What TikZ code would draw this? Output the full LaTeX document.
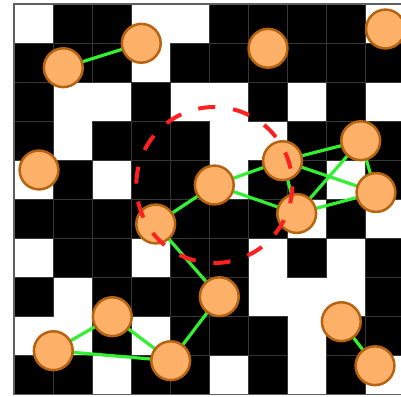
\documentclass[tikz,border=0pt]{standalone}
\definecolor{nodefill}{RGB}{253,177,104}
\definecolor{nodeline}{RGB}{183,100,18}
\definecolor{edgegreen}{RGB}{50,240,50}
\definecolor{circred}{RGB}{255,32,32}
\definecolor{gridgray}{RGB}{55,55,55}
\pgfdeclarelayer{gridlayer}
\pgfdeclarelayer{edgelayer}
\pgfsetlayers{gridlayer,edgelayer,main}
\begin{document}
\begin{tikzpicture}[x=1pt,y=-1pt,
  vert/.style={circle,draw=nodeline,fill=nodefill,line width=2.5pt,minimum size=38.8pt,inner sep=0pt},
  edge/.style={draw=edgegreen,line width=3.2pt,shorten <=-2pt,shorten >=-2pt},
  cellb/.style={fill=black,draw=gridgray,line width=0.8pt},
  frame/.style={draw=gridgray!80,line width=1.4pt},
  redc/.style={draw=circred,line width=4pt,dash pattern=on 17pt off 18pt}]
\useasboundingbox (0,0) rectangle (401,396);
\clip (0,0) rectangle (401,396);
\begin{pgfonlayer}{gridlayer}
\fill[white] (0,0) rectangle (401,396);
\foreach \row [count=\r from 0] in {
  {0,1,1,0,0,1,1,1,1,0},
  {1,1,1,0,1,1,1,1,1,1},
  {1,0,0,1,0,0,1,0,1,0},
  {1,0,1,1,1,0,0,1,1,1},
  {0,1,0,1,1,0,1,1,0,1},
  {1,1,1,1,1,1,1,0,1,0},
  {0,1,1,0,1,1,0,1,0,1},
  {1,0,1,1,1,1,0,0,0,1},
  {0,0,1,0,1,1,1,0,1,1},
  {1,1,0,1,1,0,1,0,1,0}} {
  \foreach \v [count=\c from 0] in \row {
    \ifnum\v=1
      \path[cellb] ({14+\c*39.05},{4+\r*39.05}) rectangle ++(39.05,39.05);
    \fi
  }
}
\draw[frame] (14,4) rectangle (404.5,394.5);
\end{pgfonlayer}
% nodes
\node[vert] (A) at (63.3,67.7) {};
\node[vert] (B) at (141.3,43.3) {};
\node[vert] (C) at (268,48.3) {};
\node[vert] (D) at (385.5,29) {};
\node[vert] (E) at (39,170) {};
\node[vert] (F) at (360.7,140.7) {};
\node[vert] (G) at (282.5,160.7) {};
\node[vert] (H) at (214.3,185) {};
\node[vert] (I) at (376,192.5) {};
\node[vert] (J) at (155.7,224) {};
\node[vert] (K) at (296.7,213.5) {};
\node[vert] (L) at (219.3,296.7) {};
\node[vert] (M) at (112.3,316.7) {};
\node[vert] (N) at (53.3,350.7) {};
\node[vert] (O) at (170.7,360.7) {};
\node[vert] (P) at (341.3,321.7) {};
\node[vert] (Q) at (375,365.7) {};
% edges
\begin{pgfonlayer}{edgelayer}
\draw[edge] (A) -- (B);
\draw[edge] (H) -- (G);
\draw[edge] (H) -- (K);
\draw[edge] (H) -- (J);
\draw[edge] (G) -- (F);
\draw[edge] (G) -- (I);
\draw[edge] (G) -- (K);
\draw[edge] (F) -- (K);
\draw[edge] (F) -- (I);
\draw[edge] (K) -- (I);
\draw[edge] (J) -- (L);
\draw[edge] (L) -- (O);
\draw[edge] (M) -- (N);
\draw[edge] (M) -- (O);
\draw[edge] (N) -- (O);
\draw[edge] (P) -- (Q);
\end{pgfonlayer}
% red dashed circle around H
\draw[redc] (H.center) ++(258.2:78) arc[start angle=258.2, delta angle=360, radius=78];
\end{tikzpicture}
\end{document}
